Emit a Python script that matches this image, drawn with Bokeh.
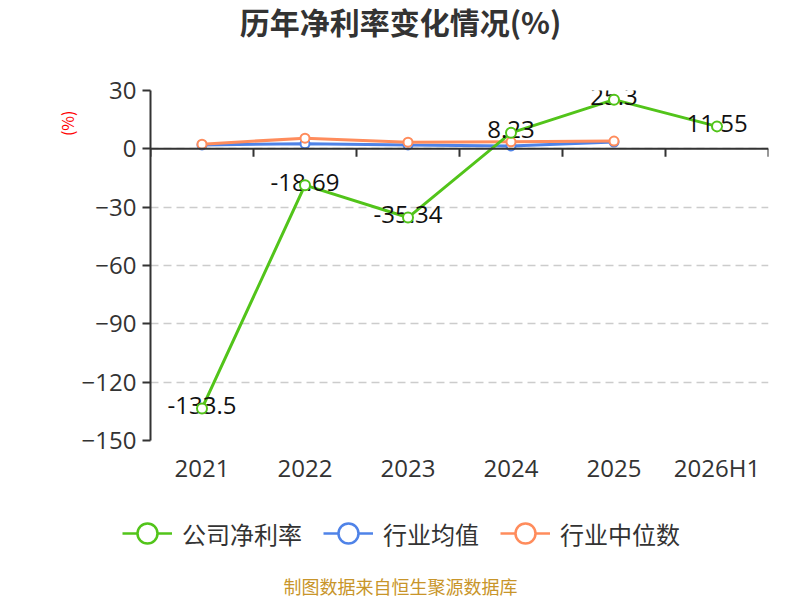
from bokeh.plotting import figure
from bokeh.layouts import column
from bokeh.models import (FixedTicker, Range1d, Legend, LegendItem, Label, Span, Title)
from bokeh.embed import file_html
from bokeh.resources import INLINE
from bokeh.core.properties import value

# ---------------- data ----------------
categories = ["2021", "2022", "2023", "2024", "2025", "2026H1"]
company_margin = [-133.5, -18.69, -35.34, 8.23, 25.3, 11.55]
industry_avg = [2.0, 2.6, 2.0, 1.5, 3.5]
industry_median = [2.4, 5.5, 3.4, 3.6, 4.0]
y_ticks = [-150, -120, -90, -60, -30, 0, 30]
series_names = ["公司净利率", "行业均值", "行业中位数"]
title_text = "历年净利率变化情况(%)"
source_text = "制图数据来自恒生聚源数据库"
unit_text = "(%)"

# ---------------- styles ----------------
GREEN = "#52c41a"
BLUE = "#4f83e8"
ORANGE = "#ff8c5c"
CJK = "Noto Sans CJK SC"
NUM = "Open Sans"
W = 800


def blank(h):
    f = figure(width=W, height=h, x_range=Range1d(0, W), y_range=Range1d(0, h),
               output_backend="svg", toolbar_location=None,
               x_axis_location=None, y_axis_location=None, min_border=0)
    f.frame_align = False
    f.outline_line_color = None
    f.xgrid.grid_line_color = None
    f.ygrid.grid_line_color = None
    return f


# ---------------- title strip ----------------
pt = blank(60)
pt.add_layout(Label(x=400, y=40, x_units="screen", y_units="screen", text=title_text,
                    text_font=CJK, text_font_size="30px", text_font_style="bold",
                    text_color="#333333", text_align="center", text_baseline="middle"))

# ---------------- main chart ----------------
n = len(categories)
xc = [i + 0.5 for i in range(n)]

p = figure(width=W, height=430, x_range=Range1d(0, n), y_range=Range1d(-150, 30),
           output_backend="svg", toolbar_location=None,
           min_border_left=150, min_border_right=32, min_border_top=30,
           min_border_bottom=50)
p.frame_align = False
p.outline_line_color = None

# y axis
p.yaxis.ticker = FixedTicker(ticks=y_ticks)
p.yaxis.axis_line_color = "#333333"
p.yaxis.axis_line_width = 2
p.yaxis.major_tick_line_color = "#333333"
p.yaxis.major_tick_line_width = 2
p.yaxis.major_tick_out = 8
p.yaxis.major_tick_in = 0
p.yaxis.minor_tick_line_color = None
p.yaxis.major_label_text_font = NUM
p.yaxis.major_label_text_font_size = "24px"
p.yaxis.major_label_text_color = "#333333"
p.yaxis.major_label_standoff = 6

# x axis (labels only)
p.xaxis.ticker = FixedTicker(ticks=xc)
p.xaxis.major_label_overrides = {x: c for x, c in zip(xc, categories)}
p.xaxis.axis_line_color = None
p.xaxis.major_tick_line_color = None
p.xaxis.minor_tick_line_color = None
p.xaxis.major_tick_out = 0
p.xaxis.major_tick_in = 0
p.xaxis.major_label_text_font = NUM
p.xaxis.major_label_text_font_size = "24px"
p.xaxis.major_label_text_color = "#333333"
p.xaxis.major_label_standoff = 10

# unit label on the left
p.add_layout(Title(text=unit_text, align="right", offset=20, text_color="red",
                   text_font=CJK, text_font_size="16px", text_font_style="normal",
                   standoff=0), "left")

# grid
p.xgrid.grid_line_color = None
p.ygrid.ticker = FixedTicker(ticks=y_ticks)
p.ygrid.grid_line_color = "#cccccc"
p.ygrid.grid_line_width = 1.5
p.ygrid.grid_line_dash = "8 5"

# zero axis line with category boundary ticks
p.add_layout(Span(location=0, dimension="width", line_color="#333333", line_width=2))
tick_len = 8 * (180 / 350.0)
bounds = list(range(n + 1))
p.segment(x0=bounds, y0=[0] * len(bounds), x1=bounds, y1=[-tick_len] * len(bounds),
          line_color="#333333", line_width=2)

# series
ind_x = xc[:len(industry_avg)]
p.line(ind_x, industry_avg, line_color=BLUE, line_width=3)
p.scatter(ind_x, industry_avg, size=9, marker="circle", fill_color="white",
          line_color=BLUE, line_width=2)
p.line(ind_x, industry_median, line_color=ORANGE, line_width=3)
p.scatter(ind_x, industry_median, size=9, marker="circle", fill_color="white",
          line_color=ORANGE, line_width=2)
p.line(xc, company_margin, line_color=GREEN, line_width=3)
p.text(x=xc, y=company_margin, text=[str(v) for v in company_margin],
       text_align="center", text_baseline="middle", y_offset=-3,
       text_font=value(NUM), text_font_size="24px", text_color="#111111")
p.scatter(xc, company_margin, size=10, marker="circle", fill_color="white",
          line_color=GREEN, line_width=2)

# ---------------- legend + source strip ----------------
pb = blank(110)
nan = float("nan")
items = []
for name, col in zip(series_names, [GREEN, BLUE, ORANGE]):
    # legend-only renderers (no visible data)
    r1 = pb.line([nan], [nan], line_color=col, line_width=2.5)
    r2 = pb.scatter([nan], [nan], marker="circle", fill_color="white", line_color=col,
                    line_width=2.5)
    items.append(LegendItem(label=name, renderers=[r1, r2]))
legend = Legend(items=items, orientation="horizontal", location=(122, 40), spacing=21,
                label_standoff=10, glyph_width=50, glyph_height=54, padding=0,
                margin=0, border_line_color=None, background_fill_alpha=0,
                label_text_font=CJK, label_text_font_size="24px",
                label_text_color="#333333")
pb.add_layout(legend, "center")
pb.add_layout(Label(x=400, y=15, x_units="screen", y_units="screen",
                    text=source_text, text_font=CJK, text_font_size="18px",
                    text_color="#c8952a", text_align="center",
                    text_baseline="middle"))

layout = column(pt, p, pb, spacing=0)
open("out.html", "w").write(file_html(layout, INLINE))
